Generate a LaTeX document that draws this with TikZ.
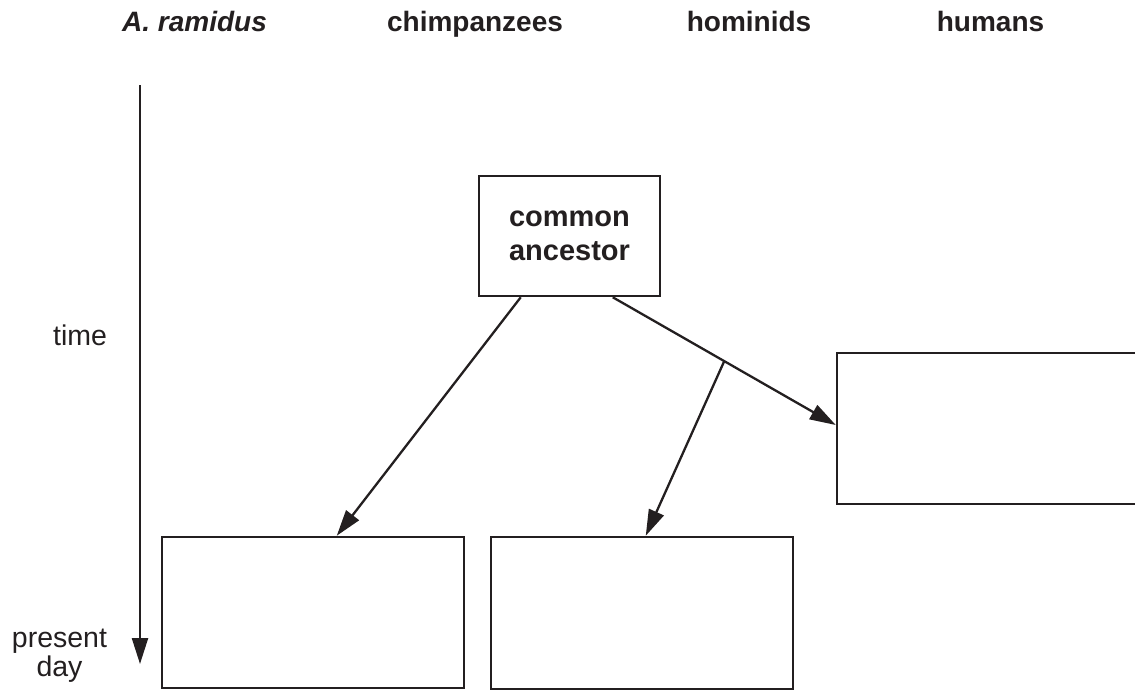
\documentclass[tikz,border=0pt]{standalone}
\usepackage{fontspec}
\setmainfont{Liberation Sans}
\usetikzlibrary{arrows.meta,calc}
\definecolor{ink}{HTML}{231F20}
\begin{document}
\begin{tikzpicture}[x=1pt,y=-1pt,
  box/.style={draw=ink, line width=2.5pt, rectangle, inner sep=0pt},
  arr/.style={draw=ink, line width=2.3pt, -{Triangle[length=26pt,width=16pt]}},
  lab/.style={font=\fontsize{28}{30}\selectfont\bfseries, text=ink, anchor=base, inner sep=0pt},
  txt/.style={font=\fontsize{28.5}{29}\selectfont, text=ink, inner sep=0pt, align=center}]
\useasboundingbox (0,0) rectangle (1135,691);
% column headings
\node[lab] (hram) at (194.5,31) {\itshape A. ramidus};
\node[lab] (hchi) at (475,31) {chimpanzees};
\node[lab] (hhom) at (749,31) {hominids};
\node[lab] (hhum) at (990.5,31) {humans};
% time axis
\coordinate (t0) at (140,85);
\coordinate (t1) at (140,664);
\draw[arr] (t0) -- (t1);
\node[txt, anchor=base] (time) at (80,345) {time};
\node[txt] (pres) at (59.5,656) {present\\day};
% boxes
\node[box, minimum width=181pt, minimum height=120pt, align=center,
      font=\fontsize{29}{34}\selectfont\bfseries, text=ink] (ca) at (569.5,236) {common\\ancestor};
\node[box, minimum width=320pt, minimum height=151pt] (rb) at (997,428.5) {};
\node[box, minimum width=302pt, minimum height=151pt] (bl) at (313,612.5) {};
\node[box, minimum width=302pt, minimum height=152pt] (bm) at (642,613) {};
% connectors
\draw[arr] ([xshift=43pt]ca.south west) -- ([xshift=176pt]bl.north west);
\coordinate (cs) at ([xshift=135pt]ca.south west);
\coordinate (re) at ([yshift=3.5pt]rb.west);
\draw[arr] (cs) -- (re);
\coordinate (br) at ($(cs)!0.5!(re)$);
\draw[arr] (br) -- ([xshift=156pt]bm.north west);
\end{tikzpicture}
\end{document}
